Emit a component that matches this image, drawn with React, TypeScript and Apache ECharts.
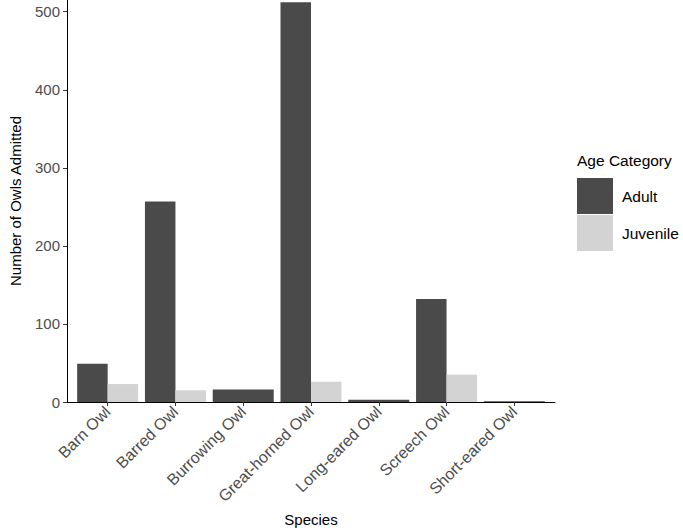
import React, { useEffect, useRef } from "react";
import * as echarts from "echarts";

const species = [
  "Barn Owl",
  "Barred Owl",
  "Burrowing Owl",
  "Great-horned Owl",
  "Long-eared Owl",
  "Screech Owl",
  "Short-eared Owl",
];
const adult: number[] = [49, 257, 16, 512, 3, 132, 1];
const juvenile: (number | null)[] = [23, 15, null, 26, null, 35, null];
const yTicks = [0, 100, 200, 300, 400, 500];

const FONT = "'Liberation Sans', Arial, Helvetica, sans-serif";
const ADULT_COLOR = "#4a4a4a";
const JUV_COLOR = "#d3d3d3";

export default function App() {
  const ref = useRef<HTMLDivElement>(null);
  useEffect(() => {
    if (!ref.current) return;
    const chart = echarts.init(ref.current, null, { renderer: "svg" });
    const idx = species.map((_, i) => i);
    const pairedAdult = idx.filter((i) => juvenile[i] !== null).map((i) => [i, adult[i]]);
    const pairedJuv = idx.filter((i) => juvenile[i] !== null).map((i) => [i, juvenile[i]]);
    const singleAdult = idx.filter((i) => juvenile[i] === null).map((i) => [i, adult[i]]);
    const xMin = -0.6;
    const xMax = species.length - 1 + 0.6;
    chart.setOption({
      animation: false,
      backgroundColor: "#ffffff",
      textStyle: { fontFamily: FONT },
      title: {
        text: "Age Category",
        left: 577,
        top: 152,
        padding: 0,
        textStyle: { fontFamily: FONT, fontSize: 15.5, fontWeight: "normal", color: "#000" },
      },
      legend: {
        data: ["Adult", "Juvenile"],
        orient: "vertical",
        left: 577,
        top: 178,
        padding: 0,
        itemWidth: 36,
        itemHeight: 36,
        itemGap: 1,
        icon: "rect",
        selectedMode: false,
        textStyle: { fontFamily: FONT, fontSize: 15.5, color: "#000", padding: [0, 0, 0, 4] },
      },
      grid: { left: 52, width: 503, top: 0, height: 406, containLabel: false },
      xAxis: [
        {
          type: "value",
          min: xMin,
          max: xMax,
          z: 5,
          name: "Species",
          nameLocation: "middle",
          nameGap: 110,
          nameTextStyle: { fontFamily: FONT, fontSize: 15, color: "#000" },
          splitLine: { show: false },
          axisLine: { show: true, onZero: false, lineStyle: { color: "#000", width: 1 } },
          axisTick: { show: true, length: 4, lineStyle: { color: "#333" }, customValues: idx },
          axisLabel: {
            customValues: idx,
            formatter: (v: number) => species[Math.round(v)] ?? "",
            rotate: 45,
            margin: 7,
            fontFamily: FONT,
            fontSize: 16,
            color: "#4d4d4d",
          },
        },
        {
          type: "value",
          min: xMin,
          max: xMax,
          show: false,
          splitLine: { show: false },
        },
      ],
      yAxis: {
        type: "value",
        min: 0,
        max: 515,
        interval: 100,
        z: 5,
        name: "Number of Owls Admitted",
        nameLocation: "middle",
        nameRotate: 90,
        nameGap: 44,
        nameTextStyle: { fontFamily: FONT, fontSize: 15, color: "#000" },
        splitLine: { show: false },
        axisLine: { show: true, onZero: false, lineStyle: { color: "#000", width: 1 } },
        axisTick: { show: true, length: 4, lineStyle: { color: "#333" }, customValues: yTicks },
        axisLabel: {
          fontFamily: FONT,
          fontSize: 15,
          color: "#4d4d4d",
          margin: 7,
          customValues: yTicks,
        },
      },
      series: [
        {
          name: "Adult",
          type: "bar",
          xAxisIndex: 0,
          data: pairedAdult,
          barGap: "0%",
          barCategoryGap: "10%",
          itemStyle: { color: ADULT_COLOR },
        },
        {
          name: "Juvenile",
          type: "bar",
          xAxisIndex: 0,
          data: pairedJuv,
          barGap: "0%",
          barCategoryGap: "10%",
          itemStyle: { color: JUV_COLOR },
        },
        {
          name: "Adult",
          type: "bar",
          xAxisIndex: 1,
          data: singleAdult,
          barWidth: "45%",
          itemStyle: { color: ADULT_COLOR },
        },
      ],
    });
    return () => chart.dispose();
  }, []);
  return (
    <div
      ref={ref}
      style={{ position: "fixed", left: 0, top: 0, width: 683, height: 532 }}
    />
  );
}
